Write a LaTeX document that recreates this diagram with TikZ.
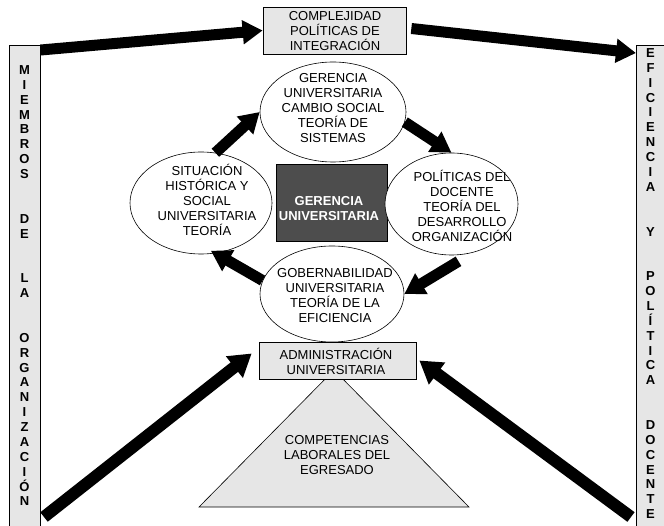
\documentclass[tikz,border=0pt]{standalone}
\usepackage{fontspec}
\setmainfont{Liberation Sans}
\usetikzlibrary{shapes.geometric,arrows.meta,calc}
\definecolor{lgray}{HTML}{E6E6E6}
\definecolor{dgray}{HTML}{4D4D4D}
\tikzset{
 txt/.style={font=\fontsize{13}{15}\selectfont, align=center, inner sep=0pt},
 graybox/.style={draw=black, line width=0.7pt, fill=lgray, inner sep=0pt},
 darkbox/.style={draw=black, line width=0.7pt, fill=dgray, inner sep=0pt},
 oval/.style={ellipse, draw=black, line width=0.6pt, fill=white, inner sep=0pt},
 bigarrow/.style={line width=12pt, -{Triangle[length=22pt,width=26pt]}},
 midarrow/.style={line width=11pt, -{Triangle[length=20pt,width=23pt]}},
 barletters/.style={font=\bfseries\fontsize{13}{14.88}\selectfont, align=center, inner sep=0pt},
}
\begin{document}
\begin{tikzpicture}[x=1pt,y=-1pt]
\useasboundingbox (0,0) rectangle (664,526);
% side bars
\node[graybox, anchor=north west, minimum width=31pt, minimum height=500pt] (lbar) at (9,45) {};
\node[graybox, anchor=north west, minimum width=31pt, minimum height=500pt] (rbar) at (636,45) {};
\node[barletters, anchor=north] (ltext) at (24.5,65.3) {M\\I\\E\\M\\B\\R\\O\\S\\\mbox{}\\\mbox{}\\D\\E\\\mbox{}\\\mbox{}\\L\\A\\\mbox{}\\\mbox{}\\O\\R\\G\\A\\N\\I\\Z\\A\\C\\I\\Ó\\N};
\node[barletters, anchor=north] (rtext) at (650.5,48.3) {E\\F\\I\\C\\I\\E\\N\\C\\I\\A\\\mbox{}\\\mbox{}\\Y\\\mbox{}\\\mbox{}\\P\\O\\L\\Í\\T\\I\\C\\A\\\mbox{}\\\mbox{}\\D\\O\\C\\E\\N\\T\\E};
% triangle
\draw[fill=lgray, line width=0.6pt] (334,370) -- (199,507) -- (469,507) -- cycle;
\node[txt] (comp) at (337,455) {COMPETENCIAS\\LABORALES DEL\\EGRESADO};
% boxes
\node[graybox, minimum width=143pt, minimum height=47pt] (cbox) at (334.5,30.5) {};
\node[txt] (ctext) at (335,31) {COMPLEJIDAD\\POLÍTICAS DE\\INTEGRACIÓN};
\node[graybox, minimum width=157pt, minimum height=37pt] (adm) at (337.5,360.5) {};
\node[txt] (atext) at (336,361) {ADMINISTRACIÓN\\UNIVERSITARIA};
\node[darkbox, minimum width=111pt, minimum height=77pt] (gbox) at (331.5,202.5) {};
\node[txt, text=white, font=\bfseries\fontsize{13}{15}\selectfont] (gtext) at (329,209) {GERENCIA\\UNIVERSITARIA};
% ellipses
\node[oval, minimum width=146pt, minimum height=100pt] (tell) at (333,112) {};
\node[txt] (ttext) at (333,108) {GERENCIA\\UNIVERSITARIA\\CAMBIO SOCIAL\\TEORÍA DE\\SISTEMAS};
\node[oval, minimum width=142pt, minimum height=102pt] (lell) at (201,203) {};
\node[txt] (ltxt) at (207,200) {SITUACIÓN\\HISTÓRICA Y\\SOCIAL\\UNIVERSITARIA\\TEORÍA};
\node[oval, minimum width=133pt, minimum height=102pt] (rell) at (451.5,204) {};
\node[txt] (rtxt) at (462,206) {POLÍTICAS DEL\\DOCENTE\\TEORÍA DEL\\DESARROLLO\\ORGANIZACIÓN};
\node[oval, minimum width=144pt, minimum height=96pt] (bell) at (332,294) {};
\node[txt] (btxt) at (335,296) {GOBERNABILIDAD\\UNIVERSITARIA\\TEORÍA DE LA\\EFICIENCIA};
% free ends
\coordinate (s7) at (44,517);
\coordinate (s8) at (631,517);
% arrows
\draw[midarrow] ($(lbar.north east)+(0,5)$) -- (cbox.west);
\draw[midarrow] ($(cbox.east)+(5,-2)$) -- ($(rbar.north west)+(0,8)$);
\draw[midarrow] (lell.74) -- (tell.west);
\draw[midarrow] (tell.-8) -- (rell.north);
\draw[midarrow] ($(rell.south)+(7,6)$) -- (bell.east);
\draw[midarrow] (bell.169) -- ($(lell.-79)+(0,-3)$);
\draw[bigarrow] (s7) -- ($(adm.west)+(-7,-7)$);
\draw[bigarrow] (s8) -- ($(adm.east)+(3,0)$);
\end{tikzpicture}
\end{document}
